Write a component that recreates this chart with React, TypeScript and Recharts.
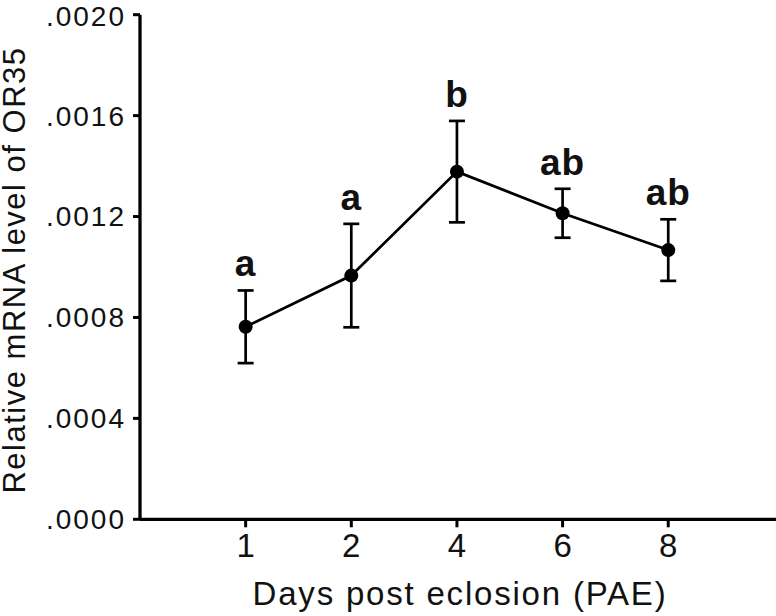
import React from 'react';
import { LineChart, Line, XAxis, YAxis, ErrorBar, LabelList, Label } from 'recharts';

// Days post eclosion (categories) and their evenly spaced slots on the x axis
const days = ['1', '2', '4', '6', '8'];
const slots = [1, 2, 3, 4, 5];
// Relative mRNA level of OR35 (mean) and error (SEM)
const meanLevel = [0.000763, 0.000966, 0.001378, 0.001213, 0.001067];
const errLevel = [0.000144, 0.000205, 0.000201, 0.000097, 0.000122];
// Significance letters
const letters = ['a', 'a', 'b', 'ab', 'ab'];
// Y axis tick values
const yTicks = [0, 0.0004, 0.0008, 0.0012, 0.0016, 0.002];

const data = slots.map((s, i) => ({
  slot: s,
  day: days[i],
  mean: meanLevel[i],
  err: errLevel[i],
  upper: meanLevel[i] + errLevel[i],
  letter: letters[i],
}));

if (typeof document !== 'undefined') {
  document.body.style.margin = '0';
}

const FONT = '"Liberation Sans", Arial, Helvetica, sans-serif';
const INK = '#111';

const renderLetter = (props: any) => {
  const { x, y, value } = props;
  return (
    <text
      x={x}
      y={y - 14}
      textAnchor="middle"
      fontFamily={FONT}
      fontWeight="bold"
      fontSize={37}
      letterSpacing={1}
      fill={INK}
    >
      {value}
    </text>
  );
};

const renderXTitle = (props: any) => {
  const vb = props.viewBox || { x: 140, y: 519.3, width: 636, height: 96.7 };
  return (
    <text
      x={vb.x + vb.width / 2 + 2}
      y={605}
      textAnchor="middle"
      fontFamily={FONT}
      fontSize={33}
      letterSpacing={1.8}
      fill={INK}
    >
      Days post eclosion (PAE)
    </text>
  );
};

const renderYTitle = (props: any) => {
  const vb = props.viewBox || { x: 0, y: 14.7, width: 140, height: 504.6 };
  const cx = 25;
  const cy = vb.y + vb.height / 2 + 3;
  return (
    <text
      x={cx}
      y={cy}
      transform={`rotate(-90 ${cx} ${cy})`}
      textAnchor="middle"
      fontFamily={FONT}
      fontSize={31}
      letterSpacing={1.5}
      fill={INK}
    >
      Relative mRNA level of OR35
    </text>
  );
};

export default function App() {
  return (
    <div style={{ width: 776, height: 616, background: '#fff' }}>
      <LineChart
        width={776}
        height={616}
        data={data}
        margin={{ top: 14.7, right: 0, bottom: 0, left: 0 }}
        style={{ overflow: 'visible' }}
      >
        <XAxis
          type="number"
          dataKey="slot"
          domain={[0, 6.02]}
          ticks={slots}
          allowDataOverflow
          tickFormatter={(v: number) => days[v - 1] ?? ''}
          height={96.7}
          axisLine={{ stroke: '#000', strokeWidth: 3.3 }}
          tickLine={{ stroke: '#000', strokeWidth: 3 }}
          tickSize={8}
          tickMargin={6.7}
          tick={{ fill: INK, fontSize: 33, fontFamily: FONT }}
        >
          <Label content={renderXTitle} />
        </XAxis>
        <YAxis
          type="number"
          domain={[0, 0.002]}
          ticks={yTicks}
          allowDataOverflow
          width={140}
          tickFormatter={(v: number) => v.toFixed(4).replace(/^0/, '')}
          axisLine={{ stroke: '#000', strokeWidth: 3.3 }}
          tickLine={{ stroke: '#000', strokeWidth: 3 }}
          tickSize={7}
          tickMargin={7}
          tick={{ fill: INK, fontSize: 28, fontFamily: FONT, letterSpacing: 2 }}
        >
          <Label content={renderYTitle} />
        </YAxis>
        <Line
          dataKey="mean"
          stroke="#000"
          strokeWidth={2.7}
          dot={{ r: 7, fill: '#000', stroke: 'none' }}
          activeDot={false}
          isAnimationActive={false}
        >
          <ErrorBar dataKey="err" width={8} stroke="#000" strokeWidth={2.7} />
        </Line>
        <Line
          dataKey="upper"
          stroke="none"
          dot={false}
          activeDot={false}
          legendType="none"
          isAnimationActive={false}
        >
          <LabelList dataKey="letter" content={renderLetter} />
        </Line>
      </LineChart>
    </div>
  );
}
